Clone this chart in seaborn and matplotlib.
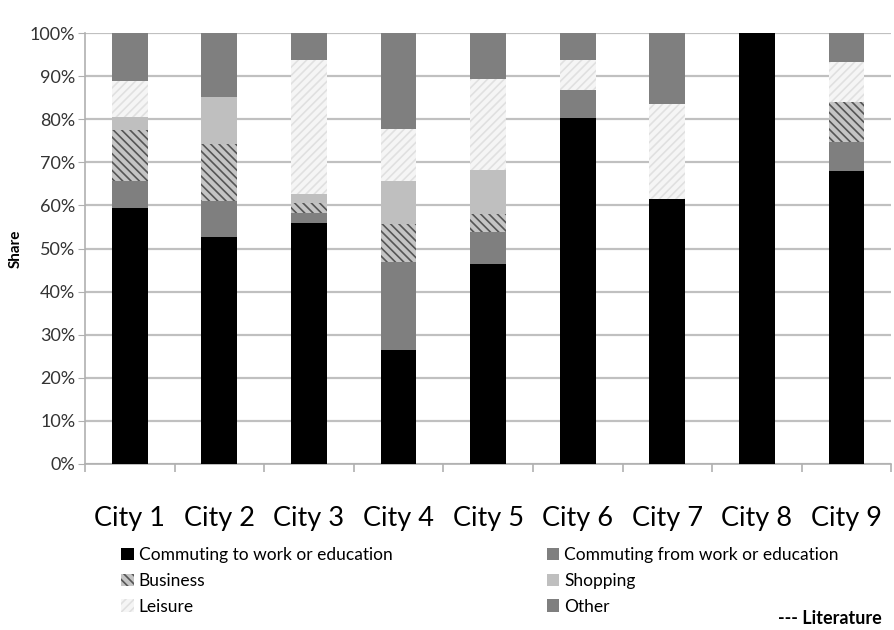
import numpy as np
import seaborn as sns
import matplotlib.pyplot as plt
from matplotlib.patches import Patch
from matplotlib.ticker import PercentFormatter, MultipleLocator, FixedLocator, NullFormatter

cities = ['City 1', 'City 2', 'City 3', 'City 4', 'City 5', 'City 6', 'City 7', 'City 8', 'City 9']
purposes = ['Commuting to work or education', 'Commuting from work or education',
            'Business', 'Shopping', 'Leisure', 'Other']

commute_to = [59.5, 52.7, 55.9, 26.4, 46.3, 80.4, 61.4, 100.0, 67.9]
commute_from = [6.1, 8.4, 2.4, 20.4, 7.6, 6.3, 0.0, 0.0, 6.8]
business = [12.0, 13.2, 2.3, 9.0, 4.2, 0.0, 0.0, 0.0, 9.3]
shopping = [2.9, 10.9, 2.0, 9.8, 10.1, 0.0, 0.0, 0.0, 0.0]
leisure = [8.3, 0.0, 31.1, 12.2, 21.2, 7.0, 22.2, 0.0, 9.3]
other = [11.2, 14.8, 6.3, 22.2, 10.6, 6.3, 16.4, 0.0, 6.7]

series = [commute_to, commute_from, business, shopping, leisure, other]
# face, hatch colour, hatch
styles = [('#000000', '#000000', None),
          ('#7f7f7f', '#7f7f7f', None),
          ('#c4c4c4', '#555555', '\\\\\\\\'),
          ('#bfbfbf', '#bfbfbf', None),
          ('#f5f5f5', '#e0e0e0', '////'),
          ('#7f7f7f', '#7f7f7f', None)]

plt.rcParams['font.family'] = ['Lato', 'DejaVu Sans']
plt.rcParams['hatch.linewidth'] = 1.2

fig = plt.figure(figsize=(8.94, 6.3), dpi=100)
ax = fig.add_axes([0.095, 0.2635, 0.902, 0.684])

cum = np.cumsum(np.array(series), axis=0)
# draw tallest stack first, lower segments over it
for i in range(len(series) - 1, -1, -1):
    face, hcol, hatch = styles[i]
    sns.barplot(x=cities, y=cum[i], color=face, saturation=1, width=0.4,
                edgecolor=hcol, linewidth=0, hatch=hatch, ax=ax, zorder=3)

ax.set_ylim(0, 100)
ax.set_xlim(-0.5, 8.5)
ax.yaxis.set_major_locator(MultipleLocator(10))
ax.yaxis.set_major_formatter(PercentFormatter(decimals=0))
ax.grid(axis='y', color='#c0c0c0', linewidth=1.6, zorder=0)
ax.set_axisbelow(True)
for s in ['top', 'right']:
    ax.spines[s].set_visible(False)
for s in ['left', 'bottom']:
    ax.spines[s].set_color('#b0b0b0')
    ax.spines[s].set_linewidth(1.2)

ax.tick_params(axis='y', labelsize=13, length=5, color='#b0b0b0', pad=2, labelcolor='#333333')
ax.tick_params(axis='x', which='major', length=0, labelsize=19.5, pad=30)
ax.xaxis.set_minor_locator(FixedLocator(np.arange(-0.5, 9, 1)))
ax.xaxis.set_minor_formatter(NullFormatter())
ax.tick_params(axis='x', which='minor', length=6, color='#b0b0b0', width=1.2)
ax.set_xlabel('')
ax.set_ylabel('Share', fontsize=11, fontweight='bold', labelpad=5)

order = [0, 2, 4, 1, 3, 5]
handles = [Patch(facecolor=styles[i][0], edgecolor=styles[i][1], linewidth=0,
                 hatch=styles[i][2], label=purposes[i]) for i in order]
fig.legend(handles=handles, ncol=2, loc='upper left', bbox_to_anchor=(0.128, 0.142),
           frameon=False, fontsize=12.5, handlelength=0.7, handleheight=0.7,
           handletextpad=0.3, columnspacing=8.9, labelspacing=0.55, borderaxespad=0)

fig.text(0.87, 0.004, '--- Literature', fontsize=13, fontweight='bold', ha='left', va='bottom')

plt.savefig('out.png', dpi=100)
